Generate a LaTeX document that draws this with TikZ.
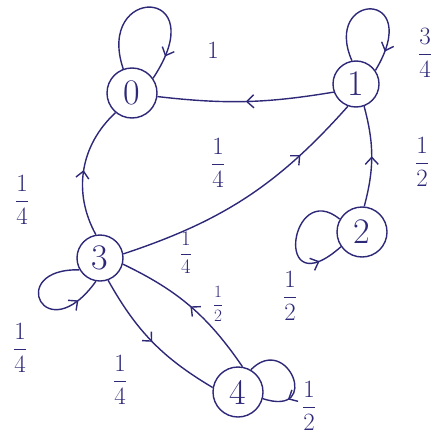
\documentclass[tikz,border=0pt]{standalone}
\usepackage{amsmath}
\usepackage{amssymb}
\usepackage{tikz}
\usetikzlibrary{arrows.meta,decorations.markings}

\definecolor{ink}{RGB}{45,40,120}

\begin{document}
\begin{tikzpicture}[x=1pt,y=1pt, line width=1.4pt, ink,
    st/.style={shape=circle, draw, minimum size=50pt, inner sep=0pt, font=\fontsize{36}{36}\selectfont},
    mid/.style={postaction={decorate}, decoration={markings,
        mark=at position #1 with {\arrow{Straight Barb[length=7pt,width=13pt]}}}},
    pr/.style={font=\Huge, text=ink},]
    \useasboundingbox (0,0) rectangle (441,-436);
    % states
    \node [st] (s0) at (132,-93) {0};
    \node [st, minimum size=46pt] (s1) at (356,-84) {1};
    \node [st] (s2) at (362,-232) {2};
    \node [st, minimum size=46pt] (s3) at (100,-258) {3};
    \node [st] (s4) at (238,-392) {4};
    % self loops
    \draw [mid=0.85] (s0.110) .. controls (95,15) and (215,15) .. (s0.35);
    \draw [mid=0.85] (s1.100) .. controls (322,8) and (425,12) .. (s1.35);
    \draw [mid=0.8] (s2.150) .. controls (290,-178) and (272,-308) .. (s2.215);
    \draw [mid=0.8] (s3.210) .. controls (5,-268) and (45,-352) .. (s3.260);
    \draw [mid=0.75] (s4.60) .. controls (288,-332) and (322,-418) .. (s4.-15);
    % transitions
    \draw [mid=0.5] (s1.200) to[bend left=8] (s0.-8);
    \draw [mid=0.5] (s3.100) to[bend left=38] (s0.230);
    \draw [mid=0.75] (s3.10) to[bend right=15] (s1.250);
    \draw [mid=0.5] (s2.85) to[bend right=15] (s1.290);
    \draw [mid=0.5] (s3.290) to[bend right=15] (s4.170);
    \draw [mid=0.5] (s4.80) to[bend right=15] (s3.-15);
    % probabilities
    \node [pr] (p00) at (213,-50) {1};
    \node [pr] (p11) at (425,-53) {$\dfrac{3}{4}$};
    \node [pr] (p10) at (218,-163) {$\dfrac{1}{4}$};
    \node [pr] (p21) at (422,-162) {$\dfrac{1}{2}$};
    \node [pr] (p30) at (22,-200) {$\dfrac{1}{4}$};
    \node [pr, font=\huge] (p31) at (186,-253) {$\dfrac{1}{4}$};
    \node [pr] (p22) at (290,-296) {$\dfrac{1}{2}$};
    \node [pr, font=\LARGE] (p43) at (218,-304) {$\dfrac{1}{2}$};
    \node [pr] (p33) at (20,-348) {$\dfrac{1}{4}$};
    \node [pr] (p34) at (120,-380) {$\dfrac{1}{4}$};
    \node [pr] (p44) at (309,-406) {$\dfrac{1}{2}$};
\end{tikzpicture}
\end{document}
